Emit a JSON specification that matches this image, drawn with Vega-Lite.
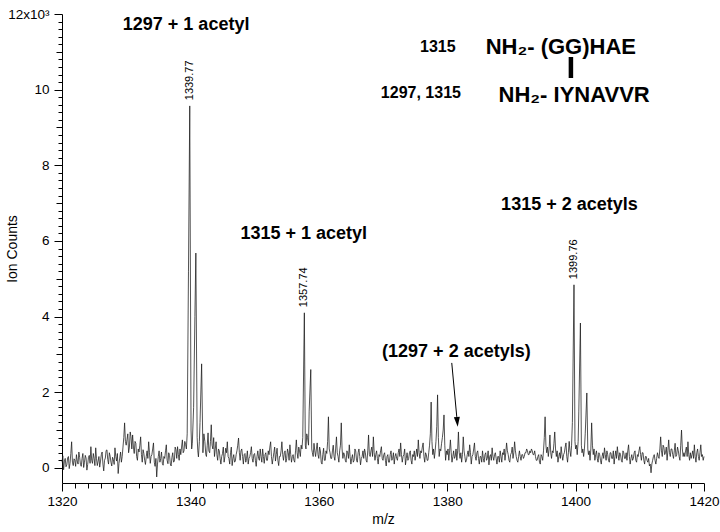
{
  "$schema": "https://vega.github.io/schema/vega-lite/v6.json",
  "width": 642,
  "height": 469,
  "autosize": {"type": "none"},
  "padding": {"left": 62, "top": 14, "right": 16, "bottom": 49},
  "background": "white",
  "config": {
    "view": {"stroke": null},
    "font": "Liberation Sans",
    "axis": {
      "domainColor": "#000", "tickColor": "#000", "labelColor": "#000", "titleColor": "#000",
      "labelFont": "Liberation Sans", "titleFont": "Liberation Sans",
      "labelFontSize": 13.5, "titleFontSize": 14, "titleFontWeight": "normal",
      "grid": false, "domainWidth": 1, "tickWidth": 1
    }
  },
  "datasets": {
    "spectrum": [
      {"m":1320,"c":150},{"m":1320.125,"c":320},{"m":1320.25,"c":-50},{"m":1320.375,"c":180},{"m":1320.5,"c":250},{"m":1320.625,"c":30},{"m":1320.75,"c":80},{"m":1320.875,"c":260},
      {"m":1321,"c":300},{"m":1321.125,"c":-20},{"m":1321.25,"c":120},{"m":1321.375,"c":380},{"m":1321.5,"c":690},{"m":1321.625,"c":150},{"m":1321.75,"c":60},{"m":1321.875,"c":240},
      {"m":1322,"c":200},{"m":1322.125,"c":40},{"m":1322.25,"c":350},{"m":1322.375,"c":180},{"m":1322.5,"c":100},{"m":1322.625,"c":420},{"m":1322.75,"c":280},{"m":1322.875,"c":90},
      {"m":1323,"c":40},{"m":1323.125,"c":250},{"m":1323.25,"c":380},{"m":1323.375,"c":10},{"m":1323.5,"c":150},{"m":1323.625,"c":330},{"m":1323.75,"c":260},{"m":1323.875,"c":-60},
      {"m":1324,"c":90},{"m":1324.125,"c":280},{"m":1324.25,"c":330},{"m":1324.375,"c":120},{"m":1324.5,"c":560},{"m":1324.625,"c":200},{"m":1324.75,"c":120},{"m":1324.875,"c":380},
      {"m":1325,"c":250},{"m":1325.125,"c":60},{"m":1325.25,"c":530},{"m":1325.375,"c":240},{"m":1325.5,"c":60},{"m":1325.625,"c":180},{"m":1325.75,"c":300},{"m":1325.875,"c":20},
      {"m":1326,"c":180},{"m":1326.125,"c":350},{"m":1326.25,"c":420},{"m":1326.375,"c":100},{"m":1326.5,"c":-80},{"m":1326.625,"c":200},{"m":1326.75,"c":260},{"m":1326.875,"c":460},
      {"m":1327,"c":475},{"m":1327.125,"c":220},{"m":1327.25,"c":100},{"m":1327.375,"c":400},{"m":1327.5,"c":310},{"m":1327.625,"c":150},{"m":1327.75,"c":50},{"m":1327.875,"c":280},
      {"m":1328,"c":220},{"m":1328.125,"c":90},{"m":1328.25,"c":530},{"m":1328.375,"c":300},{"m":1328.5,"c":180},{"m":1328.625,"c":380},{"m":1328.75,"c":-150},{"m":1328.875,"c":120},
      {"m":1329,"c":260},{"m":1329.125,"c":420},{"m":1329.25,"c":150},{"m":1329.375,"c":300},{"m":1329.5,"c":550},{"m":1329.625,"c":800},{"m":1329.75,"c":1190},{"m":1329.875,"c":700},
      {"m":1330,"c":600},{"m":1330.125,"c":750},{"m":1330.25,"c":900},{"m":1330.375,"c":400},{"m":1330.5,"c":550},{"m":1330.625,"c":950},{"m":1330.75,"c":820},{"m":1330.875,"c":500},
      {"m":1331,"c":870},{"m":1331.125,"c":550},{"m":1331.25,"c":380},{"m":1331.375,"c":700},{"m":1331.5,"c":650},{"m":1331.625,"c":300},{"m":1331.75,"c":200},{"m":1331.875,"c":500},
      {"m":1332,"c":420},{"m":1332.125,"c":600},{"m":1332.25,"c":820},{"m":1332.375,"c":350},{"m":1332.5,"c":150},{"m":1332.625,"c":480},{"m":1332.75,"c":380},{"m":1332.875,"c":200},
      {"m":1333,"c":90},{"m":1333.125,"c":300},{"m":1333.25,"c":450},{"m":1333.375,"c":250},{"m":1333.5,"c":690},{"m":1333.625,"c":400},{"m":1333.75,"c":120},{"m":1333.875,"c":300},
      {"m":1334,"c":350},{"m":1334.125,"c":500},{"m":1334.25,"c":660},{"m":1334.375,"c":150},{"m":1334.5,"c":40},{"m":1334.625,"c":250},{"m":1334.75,"c":-240},{"m":1334.875,"c":100},
      {"m":1335,"c":300},{"m":1335.125,"c":450},{"m":1335.25,"c":150},{"m":1335.375,"c":250},{"m":1335.5,"c":420},{"m":1335.625,"c":120},{"m":1335.75,"c":70},{"m":1335.875,"c":300},
      {"m":1336,"c":250},{"m":1336.125,"c":450},{"m":1336.25,"c":610},{"m":1336.375,"c":200},{"m":1336.5,"c":110},{"m":1336.625,"c":400},{"m":1336.75,"c":330},{"m":1336.875,"c":100},
      {"m":1337,"c":50},{"m":1337.125,"c":280},{"m":1337.25,"c":400},{"m":1337.375,"c":150},{"m":1337.5,"c":180},{"m":1337.625,"c":550},{"m":1337.75,"c":480},{"m":1337.875,"c":250},
      {"m":1338,"c":560},{"m":1338.125,"c":350},{"m":1338.25,"c":200},{"m":1338.375,"c":500},{"m":1338.5,"c":350},{"m":1338.625,"c":550},{"m":1338.75,"c":740},{"m":1338.875,"c":400},
      {"m":1339,"c":450},{"m":1339.125,"c":700},{"m":1339.25,"c":620},{"m":1339.375,"c":500},{"m":1339.5,"c":900},{"m":1339.7,"c":5200},
      {"m":1339.9,"c":9570},{"m":1340.1,"c":1000},{"m":1340.2,"c":500},{"m":1340.3,"c":650},{"m":1340.5,"c":1600},
      {"m":1340.7,"c":4000},{"m":1340.85,"c":5680},{"m":1341.05,"c":800},{"m":1341.15,"c":450},{"m":1341.25,"c":290},{"m":1341.4,"c":700},
      {"m":1341.5,"c":1200},{"m":1341.75,"c":2750},{"m":1341.95,"c":400},{"m":1342.1,"c":900},{"m":1342.25,"c":700},{"m":1342.4,"c":350},
      {"m":1342.5,"c":300},{"m":1342.625,"c":600},{"m":1342.75,"c":925},{"m":1342.875,"c":450},{"m":1343,"c":400},{"m":1343.125,"c":700},{"m":1343.25,"c":1140},
      {"m":1343.375,"c":600},{"m":1343.5,"c":500},{"m":1343.625,"c":800},{"m":1343.75,"c":300},{"m":1343.875,"c":500},
      {"m":1344,"c":690},{"m":1344.125,"c":350},{"m":1344.25,"c":200},{"m":1344.375,"c":500},{"m":1344.5,"c":450},{"m":1344.625,"c":250},{"m":1344.75,"c":100},{"m":1344.875,"c":300},
      {"m":1345,"c":380},{"m":1345.125,"c":550},{"m":1345.25,"c":150},{"m":1345.375,"c":300},{"m":1345.5,"c":520},{"m":1345.625,"c":400},{"m":1345.75,"c":690},{"m":1345.875,"c":300},
      {"m":1346,"c":250},{"m":1346.125,"c":100},{"m":1346.25,"c":400},{"m":1346.375,"c":550},{"m":1346.5,"c":60},{"m":1346.625,"c":250},{"m":1346.75,"c":350},{"m":1346.875,"c":150},
      {"m":1347,"c":180},{"m":1347.125,"c":350},{"m":1347.25,"c":450},{"m":1347.375,"c":600},{"m":1347.5,"c":790},{"m":1347.625,"c":400},{"m":1347.75,"c":200},{"m":1347.875,"c":450},
      {"m":1348,"c":500},{"m":1348.125,"c":300},{"m":1348.25,"c":100},{"m":1348.375,"c":350},{"m":1348.5,"c":380},{"m":1348.625,"c":150},{"m":1348.75,"c":250},{"m":1348.875,"c":450},
      {"m":1349,"c":100},{"m":1349.125,"c":250},{"m":1349.25,"c":300},{"m":1349.375,"c":400},{"m":1349.5,"c":560},{"m":1349.625,"c":250},{"m":1349.75,"c":150},{"m":1349.875,"c":350},
      {"m":1350,"c":380},{"m":1350.125,"c":200},{"m":1350.25,"c":40},{"m":1350.375,"c":300},{"m":1350.5,"c":450},{"m":1350.625,"c":250},{"m":1350.75,"c":200},{"m":1350.875,"c":500},
      {"m":1351,"c":300},{"m":1351.125,"c":150},{"m":1351.25,"c":500},{"m":1351.375,"c":300},{"m":1351.5,"c":120},{"m":1351.625,"c":350},{"m":1351.75,"c":400},{"m":1351.875,"c":200},
      {"m":1352,"c":200},{"m":1352.125,"c":450},{"m":1352.25,"c":350},{"m":1352.375,"c":550},{"m":1352.5,"c":690},{"m":1352.625,"c":300},{"m":1352.75,"c":100},{"m":1352.875,"c":250},
      {"m":1353,"c":400},{"m":1353.125,"c":550},{"m":1353.25,"c":180},{"m":1353.375,"c":350},{"m":1353.5,"c":520},{"m":1353.625,"c":200},{"m":1353.75,"c":60},{"m":1353.875,"c":300},
      {"m":1354,"c":300},{"m":1354.125,"c":450},{"m":1354.25,"c":690},{"m":1354.375,"c":350},{"m":1354.5,"c":200},{"m":1354.625,"c":400},{"m":1354.75,"c":450},{"m":1354.875,"c":150},
      {"m":1355,"c":250},{"m":1355.125,"c":500},{"m":1355.25,"c":400},{"m":1355.375,"c":200},{"m":1355.5,"c":610},{"m":1355.625,"c":350},{"m":1355.75,"c":150},{"m":1355.875,"c":300},
      {"m":1356,"c":350},{"m":1356.125,"c":200},{"m":1356.25,"c":150},{"m":1356.375,"c":450},{"m":1356.5,"c":740},{"m":1356.625,"c":400},{"m":1356.75,"c":250},{"m":1356.875,"c":550},
      {"m":1357,"c":450},{"m":1357.125,"c":300},{"m":1357.25,"c":600},{"m":1357.375,"c":500},{"m":1357.5,"c":800},{"m":1357.75,"c":4100},{"m":1357.9,"c":600},
      {"m":1358,"c":500},{"m":1358.125,"c":900},{"m":1358.25,"c":800},{"m":1358.4,"c":600},{"m":1358.5,"c":1500},{"m":1358.75,"c":2600},{"m":1358.9,"c":500},
      {"m":1359,"c":400},{"m":1359.125,"c":300},{"m":1359.25,"c":650},{"m":1359.375,"c":450},{"m":1359.5,"c":300},{"m":1359.625,"c":500},{"m":1359.75,"c":660},{"m":1359.875,"c":350},
      {"m":1360,"c":250},{"m":1360.125,"c":550},{"m":1360.25,"c":450},{"m":1360.375,"c":150},{"m":1360.5,"c":100},{"m":1360.625,"c":350},{"m":1360.75,"c":520},{"m":1360.875,"c":200},
      {"m":1361,"c":200},{"m":1361.125,"c":450},{"m":1361.25,"c":380},{"m":1361.375,"c":700},{"m":1361.5,"c":1350},{"m":1361.625,"c":500},{"m":1361.75,"c":400},{"m":1361.875,"c":250},
      {"m":1362,"c":250},{"m":1362.125,"c":450},{"m":1362.25,"c":600},{"m":1362.375,"c":300},{"m":1362.5,"c":200},{"m":1362.625,"c":500},{"m":1362.75,"c":820},{"m":1362.875,"c":400},
      {"m":1363,"c":300},{"m":1363.125,"c":150},{"m":1363.25,"c":450},{"m":1363.375,"c":600},{"m":1363.5,"c":1190},{"m":1363.625,"c":500},{"m":1363.75,"c":250},{"m":1363.875,"c":400},
      {"m":1364,"c":350},{"m":1364.125,"c":200},{"m":1364.25,"c":150},{"m":1364.375,"c":450},{"m":1364.5,"c":400},{"m":1364.625,"c":250},{"m":1364.75,"c":610},{"m":1364.875,"c":300},
      {"m":1365,"c":100},{"m":1365.125,"c":250},{"m":1365.25,"c":350},{"m":1365.375,"c":150},{"m":1365.5,"c":200},{"m":1365.625,"c":500},{"m":1365.75,"c":450},{"m":1365.875,"c":200},
      {"m":1366,"c":150},{"m":1366.125,"c":400},{"m":1366.25,"c":500},{"m":1366.375,"c":300},{"m":1366.5,"c":80},{"m":1366.625,"c":250},{"m":1366.75,"c":300},{"m":1366.875,"c":450},
      {"m":1367,"c":250},{"m":1367.125,"c":500},{"m":1367.25,"c":400},{"m":1367.375,"c":200},{"m":1367.5,"c":150},{"m":1367.625,"c":450},{"m":1367.75,"c":870},{"m":1367.875,"c":350},
      {"m":1368,"c":300},{"m":1368.125,"c":450},{"m":1368.25,"c":550},{"m":1368.375,"c":300},{"m":1368.5,"c":820},{"m":1368.625,"c":400},{"m":1368.75,"c":200},{"m":1368.875,"c":350},
      {"m":1369,"c":450},{"m":1369.125,"c":250},{"m":1369.25,"c":100},{"m":1369.375,"c":350},{"m":1369.5,"c":300},{"m":1369.625,"c":450},{"m":1369.75,"c":560},{"m":1369.875,"c":250},
      {"m":1370,"c":200},{"m":1370.125,"c":350},{"m":1370.25,"c":400},{"m":1370.375,"c":200},{"m":1370.5,"c":50},{"m":1370.625,"c":300},{"m":1370.75,"c":350},{"m":1370.875,"c":150},
      {"m":1371,"c":150},{"m":1371.125,"c":350},{"m":1371.25,"c":450},{"m":1371.375,"c":200},{"m":1371.5,"c":250},{"m":1371.625,"c":400},{"m":1371.75,"c":100},{"m":1371.875,"c":300},
      {"m":1372,"c":380},{"m":1372.125,"c":250},{"m":1372.25,"c":200},{"m":1372.375,"c":400},{"m":1372.5,"c":500},{"m":1372.625,"c":300},{"m":1372.75,"c":660},{"m":1372.875,"c":350},
      {"m":1373,"c":150},{"m":1373.125,"c":300},{"m":1373.25,"c":350},{"m":1373.375,"c":500},{"m":1373.5,"c":80},{"m":1373.625,"c":250},{"m":1373.75,"c":400},{"m":1373.875,"c":200},
      {"m":1374,"c":250},{"m":1374.125,"c":400},{"m":1374.25,"c":450},{"m":1374.375,"c":200},{"m":1374.5,"c":100},{"m":1374.625,"c":350},{"m":1374.75,"c":300},{"m":1374.875,"c":450},
      {"m":1375,"c":200},{"m":1375.125,"c":350},{"m":1375.25,"c":500},{"m":1375.375,"c":300},{"m":1375.5,"c":740},{"m":1375.625,"c":400},{"m":1375.75,"c":250},{"m":1375.875,"c":450},
      {"m":1376,"c":400},{"m":1376.125,"c":550},{"m":1376.25,"c":660},{"m":1376.375,"c":300},{"m":1376.5,"c":150},{"m":1376.625,"c":400},{"m":1376.75,"c":350},{"m":1376.875,"c":200},
      {"m":1377,"c":200},{"m":1377.125,"c":400},{"m":1377.25,"c":600},{"m":1377.375,"c":900},{"m":1377.5,"c":1740},{"m":1377.625,"c":700},{"m":1377.75,"c":350},{"m":1377.875,"c":500},
      {"m":1378,"c":250},{"m":1378.125,"c":450},{"m":1378.25,"c":700},{"m":1378.375,"c":1100},{"m":1378.5,"c":1930},{"m":1378.625,"c":800},{"m":1378.75,"c":300},{"m":1378.875,"c":500},
      {"m":1379,"c":450},{"m":1379.125,"c":650},{"m":1379.25,"c":800},{"m":1379.375,"c":1000},{"m":1379.5,"c":1400},{"m":1379.625,"c":600},{"m":1379.75,"c":200},{"m":1379.875,"c":450},
      {"m":1380,"c":350},{"m":1380.125,"c":500},{"m":1380.25,"c":200},{"m":1380.375,"c":450},{"m":1380.5,"c":740},{"m":1380.625,"c":400},{"m":1380.75,"c":150},{"m":1380.875,"c":300},
      {"m":1381,"c":450},{"m":1381.125,"c":250},{"m":1381.25,"c":300},{"m":1381.375,"c":500},{"m":1381.5,"c":200},{"m":1381.625,"c":450},{"m":1381.75,"c":950},{"m":1381.875,"c":400},
      {"m":1382,"c":250},{"m":1382.125,"c":400},{"m":1382.25,"c":150},{"m":1382.375,"c":350},{"m":1382.5,"c":820},{"m":1382.625,"c":450},{"m":1382.75,"c":300},{"m":1382.875,"c":150},
      {"m":1383,"c":200},{"m":1383.125,"c":350},{"m":1383.25,"c":450},{"m":1383.375,"c":300},{"m":1383.5,"c":610},{"m":1383.625,"c":400},{"m":1383.75,"c":100},{"m":1383.875,"c":300},
      {"m":1384,"c":350},{"m":1384.125,"c":500},{"m":1384.25,"c":660},{"m":1384.375,"c":300},{"m":1384.5,"c":200},{"m":1384.625,"c":400},{"m":1384.75,"c":450},{"m":1384.875,"c":250},
      {"m":1385,"c":100},{"m":1385.125,"c":300},{"m":1385.25,"c":300},{"m":1385.375,"c":150},{"m":1385.5,"c":450},{"m":1385.625,"c":250},{"m":1385.75,"c":150},{"m":1385.875,"c":350},
      {"m":1386,"c":400},{"m":1386.125,"c":200},{"m":1386.25,"c":250},{"m":1386.375,"c":450},{"m":1386.5,"c":80},{"m":1386.625,"c":300},{"m":1386.75,"c":350},{"m":1386.875,"c":200},
      {"m":1387,"c":530},{"m":1387.125,"c":300},{"m":1387.25,"c":200},{"m":1387.375,"c":350},{"m":1387.5,"c":400},{"m":1387.625,"c":250},{"m":1387.75,"c":100},{"m":1387.875,"c":300},
      {"m":1388,"c":300},{"m":1388.125,"c":150},{"m":1388.25,"c":450},{"m":1388.375,"c":300},{"m":1388.5,"c":150},{"m":1388.625,"c":400},{"m":1388.75,"c":350},{"m":1388.875,"c":500},
      {"m":1389,"c":200},{"m":1389.125,"c":400},{"m":1389.25,"c":660},{"m":1389.375,"c":450},{"m":1389.5,"c":350},{"m":1389.625,"c":200},{"m":1389.75,"c":150},{"m":1389.875,"c":350},
      {"m":1390,"c":400},{"m":1390.125,"c":550},{"m":1390.25,"c":250},{"m":1390.375,"c":400},{"m":1390.5,"c":690},{"m":1390.625,"c":450},{"m":1390.75,"c":300},{"m":1390.875,"c":200},
      {"m":1391,"c":150},{"m":1391.125,"c":300},{"m":1391.25,"c":450},{"m":1391.375,"c":300},{"m":1391.5,"c":200},{"m":1391.625,"c":350},{"m":1391.75,"c":350},{"m":1391.875,"c":250},
      {"m":1392,"c":300},{"m":1392.125,"c":400},{"m":1392.25,"c":400},{"m":1392.375,"c":500},{"m":1392.5,"c":450},{"m":1392.625,"c":350},{"m":1392.75,"c":350},{"m":1392.875,"c":450},
      {"m":1393,"c":400},{"m":1393.125,"c":500},{"m":1393.25,"c":450},{"m":1393.375,"c":350},{"m":1393.5,"c":350},{"m":1393.625,"c":450},{"m":1393.75,"c":300},{"m":1393.875,"c":200},
      {"m":1394,"c":200},{"m":1394.125,"c":300},{"m":1394.25,"c":350},{"m":1394.375,"c":150},{"m":1394.5,"c":100},{"m":1394.625,"c":350},{"m":1394.75,"c":300},{"m":1394.875,"c":200},
      {"m":1395,"c":450},{"m":1395.125,"c":800},{"m":1395.25,"c":1350},{"m":1395.375,"c":600},{"m":1395.5,"c":400},{"m":1395.625,"c":550},{"m":1395.75,"c":300},{"m":1395.875,"c":500},
      {"m":1396,"c":870},{"m":1396.125,"c":400},{"m":1396.25,"c":250},{"m":1396.375,"c":450},{"m":1396.5,"c":400},{"m":1396.625,"c":650},{"m":1396.75,"c":950},{"m":1396.875,"c":500},
      {"m":1397,"c":300},{"m":1397.125,"c":450},{"m":1397.25,"c":150},{"m":1397.375,"c":300},{"m":1397.5,"c":400},{"m":1397.625,"c":250},{"m":1397.75,"c":560},{"m":1397.875,"c":350},
      {"m":1398,"c":200},{"m":1398.125,"c":350},{"m":1398.25,"c":400},{"m":1398.375,"c":550},{"m":1398.5,"c":660},{"m":1398.625,"c":300},{"m":1398.75,"c":150},{"m":1398.875,"c":400},
      {"m":1399,"c":700},{"m":1399.125,"c":450},{"m":1399.25,"c":300},{"m":1399.375,"c":600},{"m":1399.5,"c":1200},{"m":1399.75,"c":4840},{"m":1399.9,"c":700},
      {"m":1400,"c":500},{"m":1400.125,"c":600},{"m":1400.25,"c":350},{"m":1400.4,"c":700},{"m":1400.5,"c":1500},{"m":1400.75,"c":3830},{"m":1400.9,"c":600},
      {"m":1401,"c":400},{"m":1401.125,"c":500},{"m":1401.25,"c":300},{"m":1401.375,"c":500},{"m":1401.5,"c":900},{"m":1401.75,"c":1980},{"m":1401.9,"c":500},
      {"m":1402,"c":350},{"m":1402.125,"c":450},{"m":1402.25,"c":200},{"m":1402.375,"c":500},{"m":1402.5,"c":1190},{"m":1402.625,"c":600},{"m":1402.75,"c":350},{"m":1402.875,"c":500},
      {"m":1403,"c":200},{"m":1403.125,"c":350},{"m":1403.25,"c":450},{"m":1403.375,"c":250},{"m":1403.5,"c":150},{"m":1403.625,"c":400},{"m":1403.75,"c":350},{"m":1403.875,"c":200},
      {"m":1404,"c":100},{"m":1404.125,"c":300},{"m":1404.25,"c":400},{"m":1404.375,"c":250},{"m":1404.5,"c":530},{"m":1404.625,"c":350},{"m":1404.75,"c":200},{"m":1404.875,"c":450},
      {"m":1405,"c":350},{"m":1405.125,"c":200},{"m":1405.25,"c":150},{"m":1405.375,"c":400},{"m":1405.5,"c":400},{"m":1405.625,"c":250},{"m":1405.75,"c":250},{"m":1405.875,"c":450},
      {"m":1406,"c":100},{"m":1406.125,"c":300},{"m":1406.25,"c":450},{"m":1406.375,"c":250},{"m":1406.5,"c":560},{"m":1406.625,"c":350},{"m":1406.75,"c":200},{"m":1406.875,"c":400},
      {"m":1407,"c":350},{"m":1407.125,"c":200},{"m":1407.25,"c":150},{"m":1407.375,"c":450},{"m":1407.5,"c":400},{"m":1407.625,"c":250},{"m":1407.75,"c":250},{"m":1407.875,"c":400},
      {"m":1408,"c":200},{"m":1408.125,"c":450},{"m":1408.25,"c":610},{"m":1408.375,"c":300},{"m":1408.5,"c":100},{"m":1408.625,"c":250},{"m":1408.75,"c":350},{"m":1408.875,"c":200},
      {"m":1409,"c":250},{"m":1409.125,"c":400},{"m":1409.25,"c":450},{"m":1409.375,"c":200},{"m":1409.5,"c":150},{"m":1409.625,"c":350},{"m":1409.75,"c":300},{"m":1409.875,"c":450},
      {"m":1410,"c":560},{"m":1410.125,"c":350},{"m":1410.25,"c":200},{"m":1410.375,"c":400},{"m":1410.5,"c":400},{"m":1410.625,"c":200},{"m":1410.75,"c":100},{"m":1410.875,"c":300},
      {"m":1411,"c":300},{"m":1411.125,"c":200},{"m":1411.25,"c":150},{"m":1411.375,"c":250},{"m":1411.5,"c":50},{"m":1411.625,"c":100},{"m":1411.75,"c":-130},{"m":1411.875,"c":100},
      {"m":1412,"c":200},{"m":1412.125,"c":300},{"m":1412.25,"c":350},{"m":1412.375,"c":200},{"m":1412.5,"c":100},{"m":1412.625,"c":250},{"m":1412.75,"c":400},{"m":1412.875,"c":300},
      {"m":1413,"c":250},{"m":1413.125,"c":500},{"m":1413.25,"c":820},{"m":1413.375,"c":450},{"m":1413.5,"c":300},{"m":1413.625,"c":600},{"m":1413.75,"c":550},{"m":1413.875,"c":350},
      {"m":1414,"c":400},{"m":1414.125,"c":550},{"m":1414.25,"c":200},{"m":1414.375,"c":450},{"m":1414.5,"c":740},{"m":1414.625,"c":400},{"m":1414.75,"c":300},{"m":1414.875,"c":500},
      {"m":1415,"c":500},{"m":1415.125,"c":350},{"m":1415.25,"c":250},{"m":1415.375,"c":450},{"m":1415.5,"c":650},{"m":1415.625,"c":300},{"m":1415.75,"c":350},{"m":1415.875,"c":550},
      {"m":1416,"c":450},{"m":1416.125,"c":300},{"m":1416.25,"c":200},{"m":1416.375,"c":600},{"m":1416.5,"c":1000},{"m":1416.625,"c":500},{"m":1416.75,"c":300},{"m":1416.875,"c":400},
      {"m":1417,"c":300},{"m":1417.125,"c":450},{"m":1417.25,"c":550},{"m":1417.375,"c":300},{"m":1417.5,"c":690},{"m":1417.625,"c":350},{"m":1417.75,"c":200},{"m":1417.875,"c":400},
      {"m":1418,"c":250},{"m":1418.125,"c":350},{"m":1418.25,"c":450},{"m":1418.375,"c":250},{"m":1418.5,"c":610},{"m":1418.625,"c":300},{"m":1418.75,"c":150},{"m":1418.875,"c":400},
      {"m":1419,"c":500},{"m":1419.125,"c":300},{"m":1419.25,"c":200},{"m":1419.375,"c":400},{"m":1419.5,"c":610},{"m":1419.625,"c":300},{"m":1419.75,"c":350},{"m":1419.875,"c":200},
      {"m":1420,"c":300}
    ],
    "peaklabels": [
      {"m":1339.9,"c":9720,"t":"1339.77"},
      {"m":1357.75,"c":4250,"t":"1357.74"},
      {"m":1399.75,"c":4990,"t":"1399.76"}
    ],
    "notes": [
      {"m":1339.33,"c":11700,"t":"1297 + 1 acetyl"},
      {"m":1357.66,"c":6185,"t":"1315 + 1 acetyl"},
      {"m":1399.04,"c":6950,"t":"1315 + 2 acetyls"},
      {"m":1381.43,"c":3066,"t":"(1297 + 2 acetyls)"}
    ],
    "ids": [
      {"m":1378.54,"c":11127,"t":"1315"},
      {"m":1375.9,"c":9911,"t":"1297, 1315"}
    ],
    "seqs": [
      {"m":1385.99,"c":11127,"t":"NH₂- (GG)HAE"},
      {"m":1388.0,"c":9858,"t":"NH₂- IYNAVVR"}
    ],
    "link": [{"m":1399.27,"c":10863,"c2":10308}],
    "arrow": [{"m":1380.71,"c":2775,"m2":1381.49,"c2":1348}],
    "head": [{"m":1381.57,"c":1216}]
  },
  "encoding": {
    "x": {
      "field": "m", "type": "quantitative",
      "scale": {"domain": [1320, 1420], "nice": false, "zero": false},
      "axis": {
        "title": "m/z", "format": "d",
        "values": [1320,1322,1324,1326,1328,1330,1332,1334,1336,1338,1340,1342,1344,1346,1348,1350,1352,1354,1356,1358,1360,1362,1364,1366,1368,1370,1372,1374,1376,1378,1380,1382,1384,1386,1388,1390,1392,1394,1396,1398,1400,1402,1404,1406,1408,1410,1412,1414,1416,1418,1420],
        "labelExpr": "datum.value % 20 === 0 ? datum.label : ''",
        "tickSize": {"condition": {"test": "datum.value % 20 === 0", "value": 8}, "value": 5},
        "labelPadding": 3, "labelOverlap": false, "labelFlush": false, "titlePadding": 5
      }
    },
    "y": {
      "field": "c", "type": "quantitative",
      "scale": {"domain": [-400, 12000], "nice": false, "zero": false},
      "axis": {
        "title": "Ion Counts", "format": "d",
        "values": [0,200,400,600,800,1000,1200,1400,1600,1800,2000,2200,2400,2600,2800,3000,3200,3400,3600,3800,4000,4200,4400,4600,4800,5000,5200,5400,5600,5800,6000,6200,6400,6600,6800,7000,7200,7400,7600,7800,8000,8200,8400,8600,8800,9000,9200,9400,9600,9800,10000,10200,10400,10600,10800,11000,11200,11400,11600,11800,12000],
        "labelExpr": "datum.value === 12000 ? '12x10³' : (datum.value % 2000 === 0 ? '' + (datum.value / 1000) : '')",
        "tickSize": {"condition": [{"test": "datum.value % 2000 === 0", "value": 8}, {"test": "datum.value % 1000 === 0", "value": 6}], "value": 4},
        "labelPadding": 5, "labelOverlap": false, "labelFlush": false, "titlePadding": -12
      }
    }
  },
  "layer": [
    {
      "data": {"name": "spectrum"},
      "mark": {"type": "line", "color": "#1a1a1a", "strokeWidth": 0.75}
    },
    {
      "data": {"name": "peaklabels"},
      "mark": {"type": "text", "angle": 270, "align": "left", "baseline": "middle", "fontSize": 11, "color": "#000", "font": "Liberation Sans"},
      "encoding": {"text": {"field": "t"}}
    },
    {
      "data": {"name": "notes"},
      "mark": {"type": "text", "align": "center", "baseline": "middle", "fontSize": 18, "fontWeight": "bold", "color": "#000", "font": "Liberation Sans"},
      "encoding": {"text": {"field": "t"}}
    },
    {
      "data": {"name": "ids"},
      "mark": {"type": "text", "align": "center", "baseline": "middle", "fontSize": 16, "fontWeight": "bold", "color": "#000", "font": "Liberation Sans"},
      "encoding": {"text": {"field": "t"}}
    },
    {
      "data": {"name": "seqs"},
      "mark": {"type": "text", "align": "left", "baseline": "middle", "fontSize": 22, "fontWeight": "bold", "color": "#000", "font": "Liberation Sans"},
      "encoding": {"text": {"field": "t"}}
    },
    {
      "data": {"name": "link"},
      "mark": {"type": "rule", "strokeWidth": 4.5, "color": "#000"},
      "encoding": {"y2": {"field": "c2"}}
    },
    {
      "data": {"name": "arrow"},
      "mark": {"type": "rule", "strokeWidth": 1, "color": "#000"},
      "encoding": {"x2": {"field": "m2"}, "y2": {"field": "c2"}}
    },
    {
      "data": {"name": "head"},
      "mark": {"type": "point", "shape": "M-0.6,-1L0.6,-1L0,1Z", "size": 100, "filled": true, "color": "#000", "opacity": 1, "angle": -5}
    }
  ]
}
